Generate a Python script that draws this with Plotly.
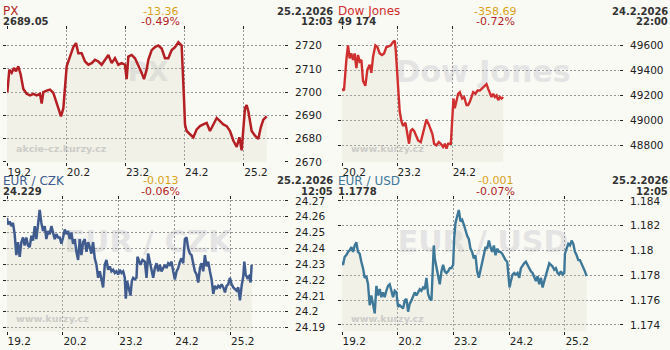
import plotly.graph_objects as go

W, H = 670, 350

# ---------------- data ----------------
# x = position in trading days * 100 (first visible day = 0)
px_x = [0, 0.6, 3.9, 7.9, 11.8, 15.2, 19.1, 23.1, 27.6, 33.2, 38.9, 44.5, 50.1, 55.7, 58.6, 61.4, 67.0, 72.6, 78.3, 82.8,
        86.7, 91.2, 95.2, 98.0, 100.8, 106.4, 112.0, 116.6, 120.5, 126.1, 131.8, 137.4, 143.0, 148.6, 154.3, 159.9, 165.5, 171.2, 176.8, 182.4,
        188.1, 193.7, 199.3, 202.1, 205.0, 210.6, 216.2, 221.8, 227.5, 231.4, 235.9, 238.7, 244.4, 250.0, 255.6, 261.3, 266.9, 272.5, 278.2, 283.8,
        289.4, 295.0, 296.7, 299.0, 300.7, 303.5, 309.1, 314.8, 320.4, 326.0, 331.6, 337.3, 342.9, 348.5, 354.2, 359.8, 365.4, 371.1, 376.7, 382.3,
        388.0, 392.5, 396.4, 402.0, 404.8, 407.7, 413.3, 418.9, 424.5, 428.5, 433.0, 438.6]
px_y = [2702.1, 2700.0, 2709.7, 2708.3, 2710.4, 2709.0, 2711.1, 2707.6, 2701.4, 2699.3, 2698.6, 2699.3, 2698.6, 2699.3, 2695.1, 2700.0, 2700.7, 2701.1, 2699.7, 2695.8,
        2693.1, 2689.6, 2693.1, 2704.2, 2711.1, 2715.3, 2719.4, 2721.1, 2716.7, 2716.7, 2713.2, 2711.8, 2712.5, 2713.9, 2713.2, 2711.8, 2713.9, 2716.0, 2712.5, 2714.6,
        2711.8, 2712.5, 2711.8, 2705.6, 2715.3, 2716.0, 2714.6, 2711.8, 2708.3, 2705.6, 2709.7, 2713.9, 2718.1, 2719.4, 2720.1, 2718.8, 2714.6, 2714.6, 2718.1, 2719.4,
        2721.5, 2720.1, 2711.8, 2697.2, 2686.1, 2683.3, 2681.9, 2680.6, 2684.0, 2685.4, 2686.1, 2686.8, 2683.3, 2686.1, 2688.9, 2687.5, 2686.1, 2685.4, 2683.3, 2679.2,
        2676.4, 2680.6, 2675.0, 2693.1, 2694.4, 2691.7, 2683.3, 2681.3, 2679.9, 2684.7, 2688.2, 2689.6]

dj_x = [0.0, 3.6, 7.9, 10.9, 13.9, 17.0, 20.0, 23.0, 26.1, 29.1, 32.1, 35.2, 38.2, 42.4, 46.1, 50.3, 53.3, 56.4, 60.6, 64.2,
        68.5, 72.7, 76.4, 80.6, 84.8, 88.5, 92.7, 95.8, 97.6, 100.6, 103.0, 104.8, 107.9, 110.9, 115.2, 118.8, 121.8, 124.8, 127.9, 130.9,
        133.9, 138.2, 143.0, 147.3, 150.3, 153.3, 157.6, 161.2, 164.2, 167.3, 171.5, 175.8, 179.4, 183.6, 186.7, 189.7, 192.7, 197.6, 200.0, 202.4,
        204.8, 207.9, 210.9, 213.9, 218.2, 221.8, 226.1, 229.1, 232.1, 235.2, 238.2, 242.4, 246.1, 250.3, 253.3, 256.4, 259.4, 262.4, 265.5, 268.5,
        271.5, 274.5, 277.6, 280.6, 283.6, 286.7, 289.7, 292.7]
dj_y = [49252, 49239, 49484, 49600, 49497, 49535, 49484, 49535, 49419, 49523, 49471, 49484, 49316, 49277, 49406, 49445, 49381, 49510, 49600, 49587,
        49535, 49523, 49535, 49587, 49592, 49600, 49626, 49639, 49561, 49316, 49174, 49071, 48994, 48955, 48981, 48891, 48813, 48916, 48929, 48916,
        48878, 48839, 48826, 48903, 48968, 49007, 48968, 48929, 48890, 48813, 48800, 48826, 48813, 48787, 48813, 48774, 48813, 48813, 49045, 49174,
        49097, 49148, 49213, 49226, 49174, 49187, 49123, 49123, 49148, 49187, 49226, 49213, 49239, 49239, 49252, 49265, 49277, 49290, 49252, 49213,
        49187, 49213, 49187, 49200, 49161, 49187, 49174, 49187]

czk_x = [0, 1.8, 4.8, 7.8, 10.7, 13.7, 16.7, 19.7, 22.7, 25.7, 28.7, 31.6, 34.6, 37.6, 40.6, 43.6, 46.6, 49.6, 52.5, 55.5,
         58.5, 61.5, 64.5, 67.5, 70.4, 73.4, 76.4, 79.4, 82.4, 85.4, 88.4, 91.3, 94.3, 97.3, 100.3, 103.3, 106.3, 109.3, 112.2, 115.2,
         118.2, 121.2, 124.2, 127.2, 130.1, 133.1, 136.1, 139.1, 142.1, 145.1, 148.1, 151.0, 154.0, 157.0, 160.0, 163.0, 166.0, 169.0, 171.9, 174.9,
         177.9, 180.9, 183.9, 186.9, 189.9, 192.8, 195.8, 198.8, 201.8, 204.8, 207.8, 210.7,
         212.5, 214.9, 218.5, 220.9, 223.3, 225.7, 228.7, 231.6, 233.4, 236.4, 238.8, 242.4, 246.6,
         249.6, 252.5, 255.5, 258.5, 261.5, 264.5, 267.5, 270.4, 273.4, 276.4, 279.4, 282.4, 285.4, 288.4, 291.3, 294.3, 297.3, 300.3, 303.3, 306.3,
         309.3, 312.2, 315.2, 318.2, 321.2, 324.2, 327.2, 330.1, 333.1, 336.1, 339.1, 342.1, 345.1, 348.1, 351.0, 354.0, 357.0, 360.0, 363.0, 366.0,
         369.0, 371.9, 374.9, 377.9, 380.9, 383.9, 386.9, 389.9, 392.8, 395.8, 398.8, 401.8, 404.8, 407.8, 410.7, 413.7, 416.7, 419.7, 422.7,
         424.5, 426.9, 429.9, 432.8, 435.8, 437.6]
czk_y = [24.2592, 24.2551, 24.2571, 24.2541, 24.2561, 24.2490, 24.2357, 24.2439, 24.2347, 24.2439,
         24.2469, 24.2418, 24.2469, 24.2418, 24.2408, 24.2480, 24.2449, 24.2541, 24.2459, 24.2561,
         24.2643, 24.2561, 24.2510, 24.2541, 24.2459, 24.2510, 24.2490, 24.2541, 24.2500, 24.2459,
         24.2490, 24.2469, 24.2469, 24.2429, 24.2469, 24.2520, 24.2490, 24.2510, 24.2459, 24.2500,
         24.2429, 24.2459, 24.2378, 24.2327, 24.2459, 24.2357, 24.2439, 24.2459, 24.2378, 24.2439,
         24.2408, 24.2367, 24.2439, 24.2337, 24.2296, 24.2214, 24.2255, 24.2204, 24.2153, 24.2296,
         24.2327, 24.2265, 24.2286, 24.2255, 24.2265, 24.2245, 24.2255, 24.2235, 24.2265, 24.2245,
         24.2255, 24.2214,
         24.2082, 24.2194, 24.2133, 24.2102, 24.2194, 24.2214, 24.2204, 24.2214, 24.2347, 24.2316, 24.2296, 24.2327, 24.2316,
         24.2214, 24.2367, 24.2316, 24.2255, 24.2214, 24.2276, 24.2306, 24.2255, 24.2296, 24.2255,
         24.2276, 24.2296, 24.2276, 24.2306, 24.2296, 24.2316, 24.2255, 24.2204, 24.2255, 24.2276,
         24.2316, 24.2337, 24.2306, 24.2459, 24.2469, 24.2398, 24.2367, 24.2357, 24.2306, 24.2255,
         24.2235, 24.2184, 24.2276, 24.2306, 24.2255, 24.2357, 24.2286, 24.2316, 24.2255, 24.2204,
         24.2112, 24.2163, 24.2143, 24.2163, 24.2153, 24.2173, 24.2153, 24.2122, 24.2163, 24.2173,
         24.2214, 24.2173, 24.2153, 24.2143, 24.2133, 24.2153, 24.2071, 24.2163, 24.2224,
         24.2316, 24.2235, 24.2214, 24.2224, 24.2184, 24.2296]

usd_x = [0, 1.8, 4.8, 7.8, 10.8, 13.8, 16.8, 19.8, 22.8, 25.7, 28.7, 31.7, 34.7, 37.7, 40.7, 43.7, 46.7, 49.7, 52.7, 55.7,
         58.7, 61.7, 64.7, 67.7, 70.7, 73.7, 76.6, 79.6, 82.6, 85.6, 88.6, 91.6, 94.6, 97.6, 100.6, 103.6, 106.6, 109.6, 112.6, 115.6,
         118.6, 121.6, 124.6, 127.5, 130.5, 133.5, 136.5, 139.5, 142.5, 145.5, 148.5, 151.5, 154.5, 157.5, 160.5,
         162.3, 164.7,
         166.5, 169.5, 172.5, 175.4, 178.4, 181.4, 184.4, 187.4, 190.4, 193.4, 196.4, 199.4,
         201.2,
         203.6, 206.6, 209.6, 212.6, 215.6, 218.6, 221.6, 224.6, 227.5, 230.5, 233.5, 236.5, 239.5, 242.5, 245.5, 248.5, 251.5, 254.5, 257.5, 260.5,
         263.5, 266.5, 269.5, 272.5, 275.4, 278.4, 281.4, 284.4, 287.4, 290.4, 293.4, 296.4,
         298.2, 300.6, 303.0,
         306.0, 309.0, 312.0, 315.0, 318.0, 321.0, 324.0, 326.9, 329.9, 332.9, 335.9, 338.9, 341.9, 344.9, 347.9, 350.9, 353.9, 356.9, 359.9, 362.9,
         365.9, 368.9, 371.9, 374.9, 377.8, 380.8, 383.8, 386.8, 389.8, 392.8, 395.8, 398.8,
         400.0,
         403.0, 406.0, 409.0, 412.0, 415.0, 418.0, 421.0, 424.0, 426.9, 429.9, 432.9, 435.9, 438.9]
usd_y = [1.17910, 1.17884, 1.17949, 1.17963, 1.17989, 1.18002, 1.18028, 1.17989, 1.18041, 1.18067,
         1.17989, 1.17975, 1.17910, 1.17858, 1.17780, 1.17793, 1.17728, 1.17559, 1.17637, 1.17572,
         1.17494, 1.17715, 1.17637, 1.17689, 1.17624, 1.17663, 1.17624, 1.17676, 1.17715, 1.17728,
         1.17676, 1.17624, 1.17676, 1.17663, 1.17546, 1.17559, 1.17546, 1.17533, 1.17598, 1.17611,
         1.17507, 1.17572, 1.17598, 1.17637, 1.17663, 1.17637, 1.17663, 1.17689, 1.17676, 1.17702,
         1.17689, 1.17780, 1.17650, 1.17611, 1.17598,
         1.17832, 1.18041,
         1.17936, 1.17858, 1.17806, 1.17728, 1.17832, 1.17884, 1.17832, 1.17819, 1.17832, 1.17858, 1.17858, 1.17884,
         1.18093,
         1.18223, 1.18275, 1.18327, 1.18236, 1.18249, 1.18210, 1.18158, 1.18119, 1.18093, 1.18015,
         1.17989, 1.17936, 1.17962, 1.17832, 1.17780, 1.17845, 1.17884, 1.17962, 1.18028, 1.18015,
         1.18080, 1.18028, 1.17989, 1.18041, 1.17962, 1.18015, 1.17989, 1.17989, 1.17975, 1.17949,
         1.17923, 1.17910,
         1.17832, 1.17702, 1.17754,
         1.17806, 1.17819, 1.17806, 1.17819, 1.17780, 1.17858, 1.17884, 1.17897, 1.17910, 1.17884,
         1.17871, 1.17832, 1.17819, 1.17780, 1.17754, 1.17793, 1.17728, 1.17780, 1.17702, 1.17754,
         1.17806, 1.17858, 1.17897, 1.17884, 1.17871, 1.17845, 1.17858, 1.17819, 1.17806, 1.17832,
         1.17806, 1.17819,
         1.17975,
         1.18015, 1.18054, 1.18041, 1.18080, 1.18054, 1.17989, 1.17962, 1.17923, 1.17923, 1.17897,
         1.17858, 1.17832, 1.17793]

# day tick labels
px_days = ["19.2", "20.2", "23.2", "24.2", "25.2"]
dj_days = ["20.2", "23.2", "24.2"]
fx_days = ["19.2", "20.2", "23.2", "24.2", "25.2"]
day_pos5 = [0, 100, 200, 300, 400]
day_pos3 = [0, 100, 200]

# y ticks
px_ticks = [2670, 2680, 2690, 2700, 2710, 2720]
dj_ticks = [48800, 49000, 49200, 49400, 49600]
czk_ticks = [24.19, 24.2, 24.21, 24.22, 24.23, 24.24, 24.25, 24.26, 24.27]
czk_ticktext = ["24.19", "24.2", "24.21", "24.22", "24.23", "24.24", "24.25", "24.26", "24.27"]
usd_ticks = [1.174, 1.176, 1.178, 1.18, 1.182, 1.184]
usd_ticktext = ["1.174", "1.176", "1.178", "1.18", "1.182", "1.184"]

# header texts
titles = ["PX", "Dow Jones", "EUR / CZK", "EUR / USD"]
last_values = ["2689.05", "49 174", "24.229", "1.1778"]
abs_changes = ["-13.36", "-358.69", "-0.013", "-0.001"]
pct_changes = ["-0.49%", "-0.72%", "-0.06%", "-0.07%"]
dates = ["25.2.2026", "24.2.2026", "25.2.2026", "25.2.2026"]
times = ["12:03", "22:00", "12:05", "12:05"]
sources = ["akcie-cz.kurzy.cz", "www.kurzy.cz", "www.kurzy.cz", "www.kurzy.cz"]

assert len(px_x) == len(px_y)
assert len(dj_x) == len(dj_y)
assert len(czk_x) == len(czk_y), (len(czk_x), len(czk_y))
assert len(usd_x) == len(usd_y), (len(usd_x), len(usd_y))

# ---------------- style ----------------
FONT = "DejaVu Sans"
BG = "#fafaf5"
FILL = "rgba(210,210,188,0.22)"
GRID = "#959595"
TXT = "#222222"

panels = [
    dict(x=px_x, y=px_y, days=px_days, dpos=day_pos5, xr=[0, 467.9], yr=[2670, 2726.67],
         yt=px_ticks, ytt=[str(v) for v in px_ticks], color="#b41f24", tcolor="#b41f24", wm_size=27, lw=2.5),
    dict(x=dj_x, y=dj_y, days=dj_days, dpos=day_pos3, xr=[0, 503], yr=[48667.4, 49721.7],
         yt=dj_ticks, ytt=[str(v) for v in dj_ticks], color="#d02f2f", tcolor="#d02f2f", wm_size=30, lw=2.4),
    dict(x=czk_x, y=czk_y, days=fx_days, dpos=day_pos5, xr=[0, 495.5], yr=[24.1875, 24.2708],
         yt=czk_ticks, ytt=czk_ticktext, color="#405c8e", tcolor="#405c8e", wm_size=30, lw=2.5),
    dict(x=usd_x, y=usd_y, days=fx_days, dpos=day_pos5, xr=[0, 497], yr=[1.17348, 1.1841],
         yt=usd_ticks, ytt=usd_ticktext, color="#3d7899", tcolor="#3d7899", wm_size=30, lw=2.4),
]

fig = go.Figure()
annotations = []
shapes = []
layout = {}

for i, p in enumerate(panels):
    n = i + 1
    col, row = i % 2, i // 2
    ox, oy = 335 * col, 175 * row
    xname = "x" if n == 1 else f"x{n}"
    yname = "y" if n == 1 else f"y{n}"
    xkey = "xaxis" if n == 1 else f"xaxis{n}"
    ykey = "yaxis" if n == 1 else f"yaxis{n}"

    fig.add_trace(go.Scatter(
        x=p["x"], y=p["y"], mode="lines", xaxis=xname, yaxis=yname,
        line=dict(color=p["color"], width=p["lw"]), fill="tozeroy", fillcolor=FILL,
        hoverinfo="skip", showlegend=False))

    x0, x1 = (ox + 7) / W, (ox + 284) / W
    y1, y0 = 1 - (oy + 26) / H, 1 - (oy + 162) / H

    layout[xkey] = dict(
        domain=[x0, x1], range=p["xr"], anchor=yname,
        tickvals=p["dpos"], ticktext=p["days"], ticks="outside", ticklen=3, tickcolor=TXT,
        mirror="ticks", showline=False, zeroline=False,
        showgrid=True, gridcolor=GRID, gridwidth=1, griddash="2px,2px",
        ticklabelposition="outside right",
        tickfont=dict(family=FONT, size=10.5, color=TXT), fixedrange=True)
    layout[ykey] = dict(
        domain=[y0, y1], range=p["yr"], anchor=xname, side="right",
        tickvals=p["yt"], ticktext=p["ytt"], ticks="outside", ticklen=3, tickcolor=TXT,
        mirror="ticks", showline=False, zeroline=False,
        showgrid=True, gridcolor=GRID, gridwidth=1, griddash="2px,2px",
        ticklabelstandoff=5,
        tickfont=dict(family=FONT, size=10.5, color=TXT), fixedrange=True)

    # headers
    def ann(text, xpx, ypx, anchor, color, size, bold=False):
        annotations.append(dict(
            text=f"<b>{text}</b>" if bold else text, xref="paper", yref="paper",
            x=(ox + xpx) / W, y=1 - (oy + ypx) / H, xanchor=anchor, yanchor="middle",
            showarrow=False, borderpad=0,
            font=dict(family=FONT, size=size, color=color)))

    ann(titles[i], 2, 6.5, "left", p["tcolor"], 12)
    ann(last_values[i], 2, 17.5, "left", "#333333", 10, True)
    ann(abs_changes[i], 160, 6.5, "center", "#d9a21b", 11)
    ann(pct_changes[i], 160, 17.5, "center", "#b41f24", 11)
    ann(dates[i], 334, 6.5, "right", "#333333", 10, True)
    ann(times[i], 334, 17.5, "right", "#333333", 10, True)

    # watermarks (below the traces)
    shapes.append(dict(
        type="rect", xref=f"{xname} domain", yref=f"{yname} domain",
        x0=0.209, x1=0.809, y0=0.6, y1=0.8, line=dict(width=0),
        fillcolor="rgba(0,0,0,0)", layer="below",
        label=dict(text=f"<b>{titles[i]}</b>", textposition="middle center",
                   font=dict(family=FONT, size=p["wm_size"], color="#e4e4e4"))))
    shapes.append(dict(
        type="rect", xref=f"{xname} domain", yref=f"{yname} domain",
        x0=0.0217, x1=0.6, y0=0.05, y1=0.155, line=dict(width=0),
        fillcolor="rgba(0,0,0,0)", layer="below",
        label=dict(text=f"<b>{sources[i]}</b>", textposition="middle left", padding=0,
                   font=dict(family=FONT, size=9.5, color="#cbcbcb"))))

fig.update_layout(
    width=W, height=H, margin=dict(l=0, r=0, t=0, b=0),
    paper_bgcolor=BG, plot_bgcolor=BG, showlegend=False,
    annotations=annotations, shapes=shapes, **layout)

fig.write_html("out.html", config={"displayModeBar": False})
